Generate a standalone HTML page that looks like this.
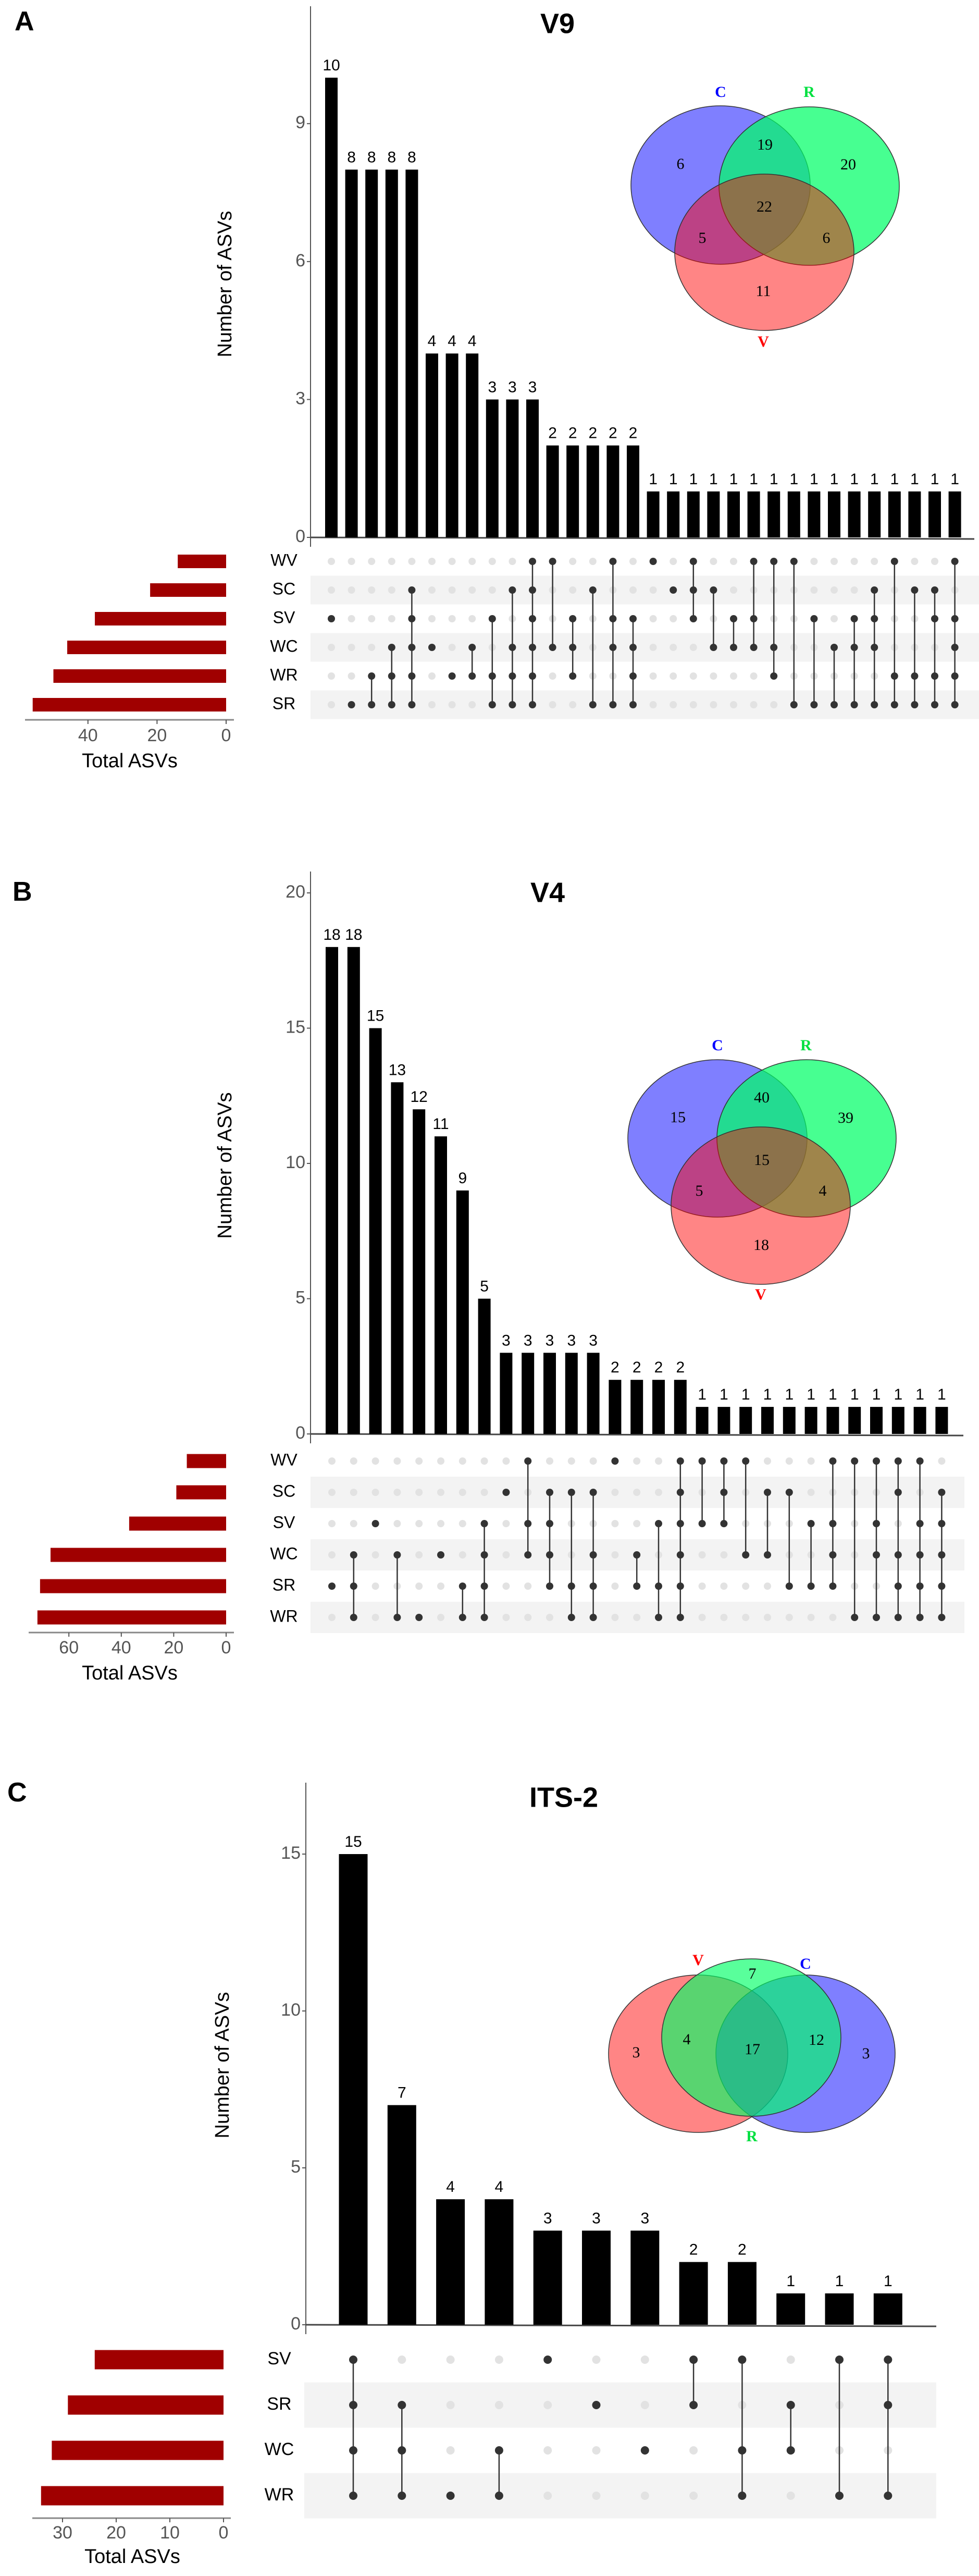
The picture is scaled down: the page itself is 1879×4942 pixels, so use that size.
<!DOCTYPE html>
<html><head><meta charset="utf-8">
<style>
html,body{margin:0;padding:0;background:#fff;}
svg{display:block;font-family:"Liberation Sans",sans-serif;}
.vn{font-family:"Liberation Serif",serif;}
</style></head>
<body>
<svg id="fig" width="1879" height="4942" viewBox="0 0 1879 4942" xmlns="http://www.w3.org/2000/svg">
  <text x="28" y="58" font-size="52" font-weight="bold">A</text>
  <text x="24" y="1728" font-size="52" font-weight="bold">B</text>
  <text x="14" y="3456" font-size="52" font-weight="bold">C</text>

  <!-- Venn A -->
  <g>
    <ellipse cx="1383" cy="355" rx="172" ry="152" fill="#0000ff" fill-opacity="0.5" stroke="#333" stroke-width="1.5"/>
    <ellipse cx="1553" cy="357" rx="173" ry="152" fill="#00ff66" fill-opacity="0.72" stroke="#333" stroke-width="1.5"/>
    <ellipse cx="1467" cy="484" rx="172" ry="150" fill="#ff0000" fill-opacity="0.48" stroke="#333" stroke-width="1.5"/>
    <g class="vn" font-size="30" text-anchor="middle" dominant-baseline="middle">
      <text x="1383" y="179" fill="#0000ff" font-weight="bold">C</text>
      <text x="1553" y="179" fill="#00e040" font-weight="bold">R</text>
      <text x="1465" y="658" fill="#ff0000" font-weight="bold">V</text>
      <text x="1306" y="317">6</text>
      <text x="1468" y="280">19</text>
      <text x="1628" y="318">20</text>
      <text x="1467" y="399">22</text>
      <text x="1348" y="459">5</text>
      <text x="1586" y="459">6</text>
      <text x="1465" y="561">11</text>
    </g>
  </g>

  <!-- Venn B -->
  <g>
    <ellipse cx="1377" cy="2184" rx="172" ry="151" fill="#0000ff" fill-opacity="0.5" stroke="#333" stroke-width="1.5"/>
    <ellipse cx="1548" cy="2184" rx="172" ry="151" fill="#00ff66" fill-opacity="0.72" stroke="#333" stroke-width="1.5"/>
    <ellipse cx="1460" cy="2313" rx="172" ry="151" fill="#ff0000" fill-opacity="0.48" stroke="#333" stroke-width="1.5"/>
    <g class="vn" font-size="30" text-anchor="middle" dominant-baseline="middle">
      <text x="1377" y="2008" fill="#0000ff" font-weight="bold">C</text>
      <text x="1547" y="2008" fill="#00e040" font-weight="bold">R</text>
      <text x="1460" y="2486" fill="#ff0000" font-weight="bold">V</text>
      <text x="1301" y="2146">15</text>
      <text x="1462" y="2108">40</text>
      <text x="1623" y="2147">39</text>
      <text x="1462" y="2228">15</text>
      <text x="1342" y="2287">5</text>
      <text x="1579" y="2287">4</text>
      <text x="1461" y="2391">18</text>
    </g>
  </g>

  <!-- Venn C -->
  <g>
    <ellipse cx="1340" cy="3940" rx="172" ry="151" fill="#ff0000" fill-opacity="0.48" stroke="#333" stroke-width="1.5"/>
    <ellipse cx="1546" cy="3940" rx="172" ry="151" fill="#0000ff" fill-opacity="0.5" stroke="#333" stroke-width="1.5"/>
    <ellipse cx="1442" cy="3909" rx="172" ry="151" fill="#00ff66" fill-opacity="0.65" stroke="#333" stroke-width="1.5"/>
    <g class="vn" font-size="30" text-anchor="middle" dominant-baseline="middle">
      <text x="1340" y="3763" fill="#ff0000" font-weight="bold">V</text>
      <text x="1546" y="3770" fill="#0000ff" font-weight="bold">C</text>
      <text x="1443" y="4101" fill="#00e040" font-weight="bold">R</text>
      <text x="1221" y="3940">3</text>
      <text x="1318" y="3915">4</text>
      <text x="1444" y="3789">7</text>
      <text x="1444" y="3934">17</text>
      <text x="1567" y="3916">12</text>
      <text x="1662" y="3942">3</text>
    </g>
  </g>
</svg>
<script>
// ---------- Panel A (V9) data ----------
const aCounts = [10,8,8,8,8,4,4,4,3,3,3,2,2,2,2,2,1,1,1,1,1,1,1,1,1,1,1,1,1,1,1,1];
const aRows = ['WV','SC','SV','WC','WR','SR'];
const aTotals = [14,22,38,46,50,56];
const aSets = [
 ['SV'],['SR'],['WR','SR'],['WC','WR','SR'],['SC','SV','WC','WR','SR'],['WC'],['WR'],['WC','WR'],
 ['SV','WR','SR'],['SC','WC','WR','SR'],['WV','SC','SV','WC','WR','SR'],['WV','WC'],['SV','WC','WR'],['SC','SR'],['WV','SV','WC','SR'],['SV','WC','WR','SR'],
 ['WV'],['SC'],['WV','SC','SV'],['SC','WC'],['SV','WC'],['WV','SV','WC'],['WV','WC','WR'],['WV','SR'],
 ['SV','SR'],['WC','SR'],['SV','WC','SR'],['SC','SV','WC','SR'],['WV','WR','SR'],['SC','WR','SR'],['SC','SV','WR','SR'],['WV','SV','WC','WR','SR']
];
const aTicks = [0,3,6,9];
const aTotalTicks = [0,20,40];

// ---------- Panel B (V4) data ----------
const bCounts = [18,18,15,13,12,11,9,5,3,3,3,3,3,2,2,2,2,1,1,1,1,1,1,1,1,1,1,1,1];
const bRows = ['WV','SC','SV','WC','SR','WR'];
const bTotals = [15,19,37,67,71,72];
const bSets = [
 ['SR'],['WC','SR','WR'],['SV'],['WC','WR'],['WR'],['WC'],['SR','WR'],['SV','WC','SR','WR'],
 ['SC'],['WV','SV','WC'],['SC','SV','WC','SR'],['SC','SR','WR'],['SC','WC','SR','WR'],['WV'],['WC','SR'],['SV','SR','WR'],
 ['WV','SC','SV','WC','SR','WR'],['WV','SV'],['WV','SC','SV'],['WV','WC'],['SC','WC'],['SC','SR'],['SV','SR'],['WV','SV','WC','SR'],
 ['WV','WR'],['WV','SV','WC','WR'],['WV','SC','WC','SR','WR'],['WV','SV','WC','SR','WR'],['SC','SV','WC','SR','WR']
];
const bTicks = [0,5,10,15,20];
const bTotalTicks = [0,20,40,60];

// ---------- Panel C (ITS-2) data ----------
const cCounts = [15,7,4,4,3,3,3,2,2,1,1,1];
const cRows = ['SV','SR','WC','WR'];
const cTotals = [24,29,32,34];
const cSets = [
 ['SV','SR','WC','WR'],['SR','WC','WR'],['WR'],['WC','WR'],['SV'],['SR'],['WC'],['SV','SR'],
 ['SV','WC','WR'],['SR','WC'],['SV','WR'],['SV','SR','WR']
];
const cTicks = [0,5,10,15];
const cTotalTicks = [0,10,20,30];

const NS = 'http://www.w3.org/2000/svg';
const svg = document.getElementById('fig');
function mk(tag, attrs, parent){
  const e = document.createElementNS(NS, tag);
  for (const k in attrs) e.setAttribute(k, attrs[k]);
  (parent || svg).appendChild(e);
  return e;
}

function drawPanel(id, counts, rows, totals, sets, ticks, tticks, L){
  const g = mk('g', {});
  
  
  const yS = v => L.base - v * L.ppu;
  const xS = i => L.x0 + i * L.dx;
  const rowY = r => L.r0 + r * L.rdy;
  const tS = v => L.lRight - v * L.lppu;

  rows.forEach((r, i) => {
    if (i % 2 === 1) {
      const b = mk('rect', {x: L.bandX, y: rowY(i) - L.rdy/2, width: L.bandW, height: L.rdy, fill: '#f3f3f3'}, g);
      
      
    }
  });

  const t = mk('text', {x: L.titleX, y: L.titleY, 'font-size': 54, 'font-weight': 'bold', 'text-anchor': 'middle', 'dominant-baseline': 'middle'}, g);
  t.textContent = L.title;
  
  

  const ya = mk('line', {x1: L.ax, x2: L.ax, y1: L.axTop, y2: L.base + 18, stroke: '#555', 'stroke-width': 2}, g);
  
  
  const xa = mk('line', {x1: L.ax, x2: L.axEnd, y1: L.base, y2: L.base + 3, stroke: '#444', 'stroke-width': 3}, g);
  
  
  ticks.forEach(v => {
    const tk = mk('line', {x1: L.ax - 7, x2: L.ax, y1: yS(v), y2: yS(v), stroke: '#555', 'stroke-width': 2}, g);
    
    
    const tl = mk('text', {x: L.ax - 10, y: yS(v), 'font-size': 34, fill: '#555', 'text-anchor': 'end', 'dominant-baseline': 'middle'}, g);
    tl.textContent = v;
    
    
  });
  const yt = mk('text', {x: L.ytX, y: L.ytY, 'font-size': 38, 'text-anchor': 'middle', 'dominant-baseline': 'middle', transform: 'rotate(-90 ' + L.ytX + ' ' + L.ytY + ')'}, g);
  yt.textContent = 'Number of ASVs';
  
  

  counts.forEach((v, i) => {
    const b = mk('rect', {x: xS(i) - L.bw/2, y: yS(v), width: L.bw, height: v * L.ppu, fill: '#000'}, g);
    
    
    const lb = mk('text', {x: xS(i), y: yS(v) - 14, 'font-size': L.vfs, 'text-anchor': 'middle'}, g);
    lb.textContent = v;
    
    
  });

  rows.forEach((r, i) => {
    const rl = mk('text', {x: L.labX, y: rowY(i), 'font-size': L.lfs, 'text-anchor': 'middle', 'dominant-baseline': 'middle'}, g);
    rl.textContent = r;
    
    
    const tb = mk('rect', {x: tS(totals[i]), y: rowY(i) - L.lbh/2, width: totals[i] * L.lppu, height: L.lbh, fill: '#a00000'}, g);
    
    
  });
  const la = mk('line', {x1: L.laX1, x2: L.laX2, y1: L.laY, y2: L.laY, stroke: '#888', 'stroke-width': 3}, g);
  
  
  tticks.forEach(v => {
    const tk = mk('line', {x1: tS(v), x2: tS(v), y1: L.laY, y2: L.laY + 8, stroke: '#555', 'stroke-width': 2}, g);
    
    
    const tl = mk('text', {x: tS(v), y: L.ttY, 'font-size': 34, fill: '#555', 'text-anchor': 'middle', 'dominant-baseline': 'middle'}, g);
    tl.textContent = v;
    
    
  });
  const tt = mk('text', {x: L.ttlX, y: L.ttlY, 'font-size': 38, 'text-anchor': 'middle', 'dominant-baseline': 'middle'}, g);
  tt.textContent = 'Total ASVs';
  
  

  // matrix: inactive dots first, then connectors, then active dots
  sets.forEach((s, i) => {
    const idx = s.map(n => rows.indexOf(n));
    rows.forEach((r, j) => {
      if (idx.indexOf(j) < 0) {
        const d = mk('circle', {cx: xS(i), cy: rowY(j), r: L.dr, fill: '#e2e2e2'}, g);
        
        
      }
    });
    const mn = Math.min(...idx), mx = Math.max(...idx);
    if (mx > mn) {
      const ln = mk('line', {x1: xS(i), x2: xS(i), y1: rowY(mn), y2: rowY(mx), stroke: '#333', 'stroke-width': 2.5}, g);
      
      
    }
    idx.forEach(j => {
      const d = mk('circle', {cx: xS(i), cy: rowY(j), r: L.dr, fill: '#333'}, g);
      
      
    });
  });
}

drawPanel('v9', aCounts, aRows, aTotals, aSets, aTicks, aTotalTicks, {
  title: 'V9', titleX: 1070, titleY: 49, base: 1031, ppu: 88.2, ax: 596, axTop: 12, axEnd: 1870,
  x0: 636, dx: 38.6, bw: 24, vfs: 30, ytX: 434, ytY: 545,
  r0: 1077, rdy: 55, labX: 545, lfs: 32, bandX: 596, bandW: 1283, dr: 7,
  lRight: 434, lppu: 6.63, lbh: 26, laX1: 48, laX2: 449, laY: 1381, ttY: 1413, ttlX: 249, ttlY: 1462
});
drawPanel('v4', bCounts, bRows, bTotals, bSets, bTicks, bTotalTicks, {
  title: 'V4', titleX: 1051, titleY: 1716, base: 2751, ppu: 51.9, ax: 596, axTop: 1672, axEnd: 1849,
  x0: 637, dx: 41.8, bw: 24, vfs: 30, ytX: 434, ytY: 2236,
  r0: 2803, rdy: 60, labX: 545, lfs: 32, bandX: 596, bandW: 1255, dr: 7,
  lRight: 434, lppu: 5.03, lbh: 27, laX1: 55, laX2: 449, laY: 3132, ttY: 3163, ttlX: 249, ttlY: 3212
});
drawPanel('its2', cCounts, cRows, cTotals, cSets, cTicks, cTotalTicks, {
  title: 'ITS-2', titleX: 1082, titleY: 3452, base: 4460, ppu: 60.2, ax: 587, axTop: 3420, axEnd: 1797,
  x0: 678, dx: 93.3, bw: 55, vfs: 30, ytX: 429, ytY: 3962,
  r0: 4527, rdy: 87, labX: 536, lfs: 34, bandX: 584, bandW: 1213, dr: 8,
  lRight: 429, lppu: 10.3, lbh: 37, laX1: 62, laX2: 443, laY: 4831, ttY: 4861, ttlX: 254, ttlY: 4907
});
</script>
</body></html>
